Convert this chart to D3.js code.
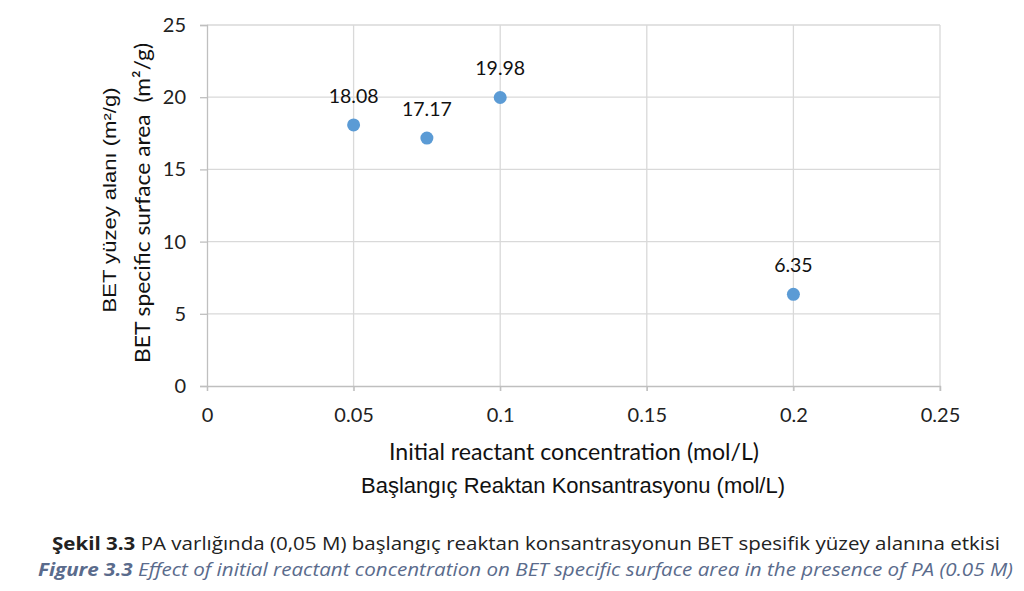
<!DOCTYPE html>
<html><head><meta charset="utf-8">
<script src="https://cdn.jsdelivr.net/npm/d3@7"></script>
<style>body{margin:0;background:#fff}svg{display:block}</style>
</head><body>
<svg id="c" width="1024" height="591"></svg>
<script>
const concentrations = [0.05, 0.075, 0.1, 0.2];
const surfaceArea = [18.08, 17.17, 19.98, 6.35];
const xTicks = [0, 0.05, 0.1, 0.15, 0.2, 0.25];
const yTicks = [0, 5, 10, 15, 20, 25];
const xTickLabels = ["0", "0.05", "0.1", "0.15", "0.2", "0.25"];

const svg = d3.select("#c");
const x = d3.scaleLinear().domain([0, 0.25]).range([207, 940]);
const y = d3.scaleLinear().domain([0, 25]).range([386, 25]);
const grid = "#d9d9d9";
const calibri = "Lato, 'Open Sans', sans-serif";

// horizontal gridlines
svg.append("g").selectAll("line").data(yTicks.slice(1)).join("line")
  .attr("x1", x(0)).attr("x2", x(0.25)).attr("y1", d => y(d)).attr("y2", d => y(d))
  .attr("stroke", grid).attr("stroke-width", 1.3);
// vertical gridlines
svg.append("g").selectAll("line").data(xTicks.slice(1)).join("line")
  .attr("x1", d => x(d)).attr("x2", d => x(d)).attr("y1", y(25)).attr("y2", y(0) + 5)
  .attr("stroke", grid).attr("stroke-width", 1.3);

// axes
const yAxis = svg.append("g").attr("transform", `translate(${x(0)},0)`)
  .call(d3.axisLeft(y).tickValues(yTicks).tickSize(7).tickPadding(14));
const xAxis = svg.append("g").attr("transform", `translate(0,${y(0)})`)
  .call(d3.axisBottom(x).tickValues(xTicks).tickFormat((d, i) => xTickLabels[i]).tickSize(5).tickPadding(17));
[yAxis, xAxis].forEach(g => {
  g.select(".domain").attr("stroke", "#bfbfbf").attr("stroke-width", 1.3);
  g.selectAll(".tick line").attr("stroke", "#bfbfbf").attr("stroke-width", 1.3);
  g.selectAll("text").attr("font-family", calibri).attr("font-size", 20).attr("fill", "#222");
});

// points
svg.append("g").selectAll("circle").data(concentrations).join("circle")
  .attr("cx", d => x(d)).attr("cy", (d, i) => y(surfaceArea[i])).attr("r", 6.5)
  .attr("fill", "#5b9bd5");
// labels
svg.append("g").selectAll("text").data(concentrations).join("text")
  .attr("x", d => x(d)).attr("y", (d, i) => y(surfaceArea[i]) - 22)
  .attr("text-anchor", "middle").attr("font-family", calibri).attr("font-size", 19.5).attr("fill", "#111")
  .text((d, i) => surfaceArea[i].toFixed(2));

// axis titles
svg.append("text").attr("x", 574).attr("y", 460).attr("text-anchor", "middle")
  .attr("font-family", calibri).attr("font-size", 22.5).attr("fill", "#111")
  .attr("textLength", 370).attr("lengthAdjust", "spacingAndGlyphs")
  .text("Initial reactant concentration (mol/L)");
svg.append("text").attr("x", 573).attr("y", 493).attr("text-anchor", "middle")
  .attr("font-family", "'Liberation Sans', Arial, sans-serif").attr("font-size", 21.5).attr("fill", "#111")
  .attr("textLength", 424).attr("lengthAdjust", "spacingAndGlyphs")
  .text("Başlangıç Reaktan Konsantrasyonu (mol/L)");
svg.append("text").attr("transform", "translate(116,200) rotate(-90)").attr("text-anchor", "middle")
  .attr("font-family", "'Liberation Sans', Arial, sans-serif").attr("font-size", 18).attr("fill", "#111")
  .attr("textLength", 225).attr("lengthAdjust", "spacingAndGlyphs")
  .text("BET yüzey alanı (m²/g)");
svg.append("text").attr("transform", "translate(150,203) rotate(-90)").attr("text-anchor", "middle")
  .attr("font-family", calibri).attr("font-size", 21.5).attr("fill", "#111")
  .attr("xml:space", "preserve")
  .attr("textLength", 320).attr("lengthAdjust", "spacingAndGlyphs")
  .text("BET specific surface area  (m²/g)");

// caption
const cap1 = svg.append("text").attr("x", 52).attr("y", 550)
  .attr("font-family", "'Open Sans', sans-serif").attr("font-size", 17.5).attr("fill", "#222")
  .attr("textLength", 948).attr("lengthAdjust", "spacingAndGlyphs");
cap1.append("tspan").attr("font-weight", "bold").text("Şekil 3.3");
cap1.append("tspan").text("  PA varlığında (0,05 M) başlangıç reaktan konsantrasyonun BET spesifik yüzey alanına etkisi");
const cap2 = svg.append("text").attr("x", 38).attr("y", 576)
  .attr("font-family", "'Open Sans', sans-serif").attr("font-size", 17.5).attr("fill", "#5a6b8c")
  .attr("font-style", "italic")
  .attr("textLength", 975).attr("lengthAdjust", "spacingAndGlyphs");
cap2.append("tspan").attr("font-weight", "bold").text("Figure 3.3");
cap2.append("tspan").text("  Effect of initial reactant concentration on BET specific surface area in the presence of PA (0.05 M)");
</script>
</body></html>
